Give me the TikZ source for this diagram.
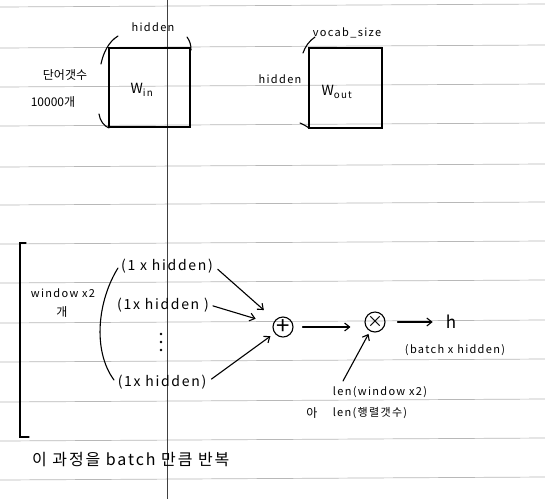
\documentclass[tikz,border=0pt]{standalone}
\usepackage{fontspec}
\setmainfont{Noto Sans CJK KR}
\newfontfamily\hand[LetterSpace=12]{Noto Sans CJK KR}
\usetikzlibrary{arrows.meta}
\begin{document}
\begin{tikzpicture}[x=1pt,y=-1pt,
  rule/.style={draw=black!28,line width=0.7pt},
  margin/.style={draw=black!75,line width=0.6pt},
  ink/.style={draw=black,line width=1.1pt,line cap=round},
  mat/.style={draw=black,line width=1.6pt,minimum width=#1,inner sep=0pt},
  lbl/.style={inner sep=1pt,font=\fontsize{12}{14}\selectfont},
  slbl/.style={inner sep=1pt,font=\hand\fontsize{11}{13}\selectfont},
  big/.style={inner sep=1pt,font=\hand\fontsize{14}{16}\selectfont},
  op/.style={circle,draw=black,line width=1.1pt,minimum size=20pt,inner sep=0pt,font=\fontsize{16}{16}\selectfont},
  arr/.style={ink,-{Straight Barb[length=5pt,width=8pt]}}]
\useasboundingbox (0,0) rectangle (545,499);
\fill[white] (0,0) rectangle (545,499);
% ruled paper
\foreach \yy in {7,48,87,126,167,205,244,283,323,362,402,441,480}
  \draw[rule] (0,\yy) -- (545,\yy-3);
\draw[margin] (167,0) -- (167,499);

% top matrices
\node[mat=81pt,minimum height=79pt] (win) at (149.5,87.5) {};
\node[big] (wint) at (142,90) {W\textsubscript{in}};
\node[slbl] (h1) at (153,27) {hidden};
\node[lbl] (nw) at (65,75) {단어갯수};
\node[lbl] (nn) at (53,102) {10000개};
\draw[ink] (118,36) .. controls (108,42) and (103,54) .. (101,64);
\draw[ink] (99,114) .. controls (100,121) and (104,126) .. (109,128);
\draw[ink] (187,37) .. controls (190,41) and (191,45) .. (191,50);

\node[mat=72.5pt,minimum height=80pt] (wout) at (345.5,88) {};
\node[big] (woutt) at (337,92) {W\textsubscript{out}};
\node[slbl] (vs) at (347,33) {vocab\_size};
\node[slbl] (h2) at (280,79) {hidden};
\draw[ink] (315,37) .. controls (309,41) and (305,47) .. (303,53);
\draw[ink] (300,123) .. controls (303,124) and (306,126) .. (309,128);

% bottom process
\draw[ink] (26,243) -- (20,243) -- (20,437) -- (29,437);
\node[slbl] (wx) at (63,293) {window x2};
\node[lbl] (gae) at (62,312) {개};
\draw[ink] (118,268) .. controls (98,300) and (92,350) .. (114,380);

\node[big] (r1) at (167,266) {(1 x hidden)};
\node[big] (r2) at (163,305) {(1x hidden )};
\node[big] (r3) at (162,382) {(1x hidden)};
\foreach \dy in {334,342,350} \fill (161,\dy) circle (1.3pt);

\node[op,font=\fontsize{24}{24}\selectfont] (plus) at (283,327) {+};
\node[op] (times) at (375,322) {×};
\node[font=\fontsize{17}{17}\selectfont,inner sep=1pt] (h) at (451,322) {h};
\node[slbl] (bh) at (455,350) {(batch x hidden)};
\node[slbl] (lenw) at (380,392) {len(window x2)};
\node[lbl] (ah) at (312,413) {아};
\node[slbl] (lenm) at (370,413) {len(행렬갯수)};
\coordinate (lenstart) at (343,381);

\draw[arr,shorten <=5pt,shorten >=15pt] (r1.east) -- (plus);
\draw[arr,shorten <=3pt,shorten >=18pt] (r2.east) -- (plus);
\draw[arr,shorten <=5pt,shorten >=5pt] (r3.east) -- (plus);
\draw[arr,shorten <=9pt,shorten >=14pt] (plus.east) -- (plus.east -| times.west);
\draw[arr,shorten <=12pt,shorten >=12pt] (times.east) -- (times.east -| h.west);
\draw[arr,shorten >=3pt] (lenstart) -- (times);

\node[font=\hand\fontsize{16}{18}\selectfont,inner sep=1pt,anchor=west] (rep) at (31,460) {이 과정을 batch 만큼 반복};
\end{tikzpicture}
\end{document}
